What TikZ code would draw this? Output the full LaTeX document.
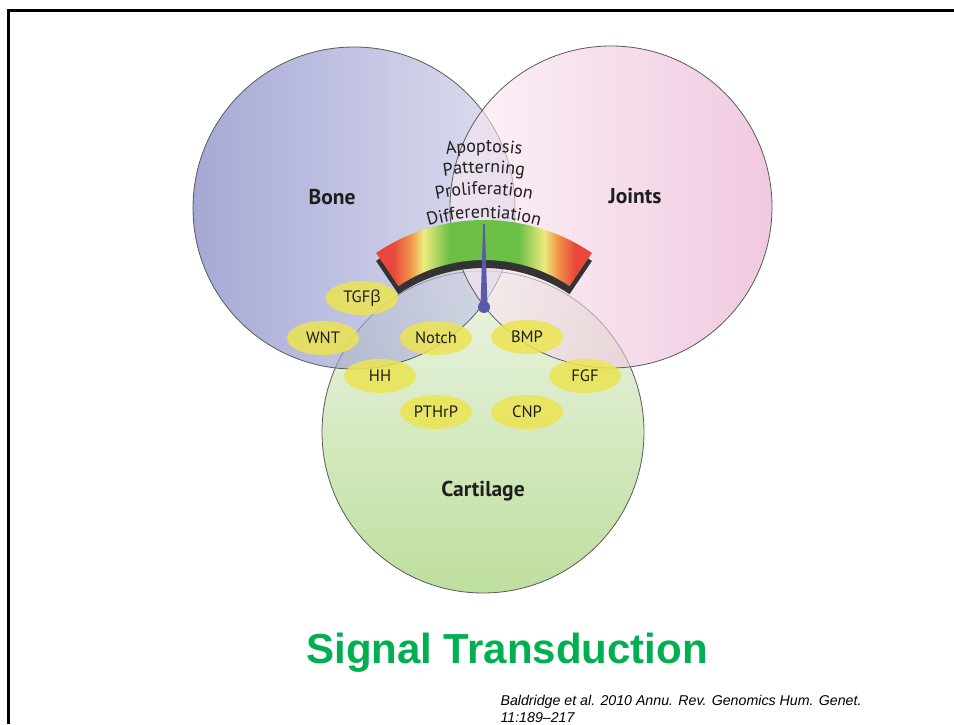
\documentclass[tikz,border=0pt]{standalone}
\usepackage{fontspec}
\setmainfont{PT Sans}
\newfontfamily\greekfont{Open Sans}
\newfontfamily\slidefont{Liberation Sans}
\usetikzlibrary{shapes.geometric,decorations.text}

\definecolor{bonedark}{RGB}{118,122,190}
\definecolor{bonelight}{RGB}{205,205,232}
\definecolor{jointdark}{RGB}{229,165,204}
\definecolor{jointlight}{RGB}{251,236,244}
\definecolor{carttop}{RGB}{236,245,228}
\definecolor{cartbottom}{RGB}{190,222,158}
\definecolor{sigyellow}{RGB}{236,228,82}
\definecolor{gred}{RGB}{232,72,60}
\definecolor{gorange}{RGB}{240,150,72}
\definecolor{gyellow}{RGB}{238,234,128}
\definecolor{ggreen}{RGB}{108,192,70}
\definecolor{needleblue}{RGB}{88,90,170}
\definecolor{labelgray}{RGB}{30,30,30}
\definecolor{titlegreen}{RGB}{0,176,80}

\pgfdeclarehorizontalshading{gaugeshade}{100bp}{color(0bp)=(gred); color(25bp)=(gred);
  color(29bp)=(gred); color(33bp)=(gorange); color(36bp)=(gyellow); color(42bp)=(ggreen);
  color(58bp)=(ggreen); color(64bp)=(gyellow); color(67bp)=(gorange); color(71bp)=(gred);
  color(75bp)=(gred); color(100bp)=(gred)}

\newcommand{\arcfont}{\fontsize{18}{18}\selectfont}

\tikzset{
  region/.style={draw=black!65, line width=0.8},
  regionlabel/.style={anchor=base, text=labelgray, font=\bfseries\fontsize{21.5}{21.5}\selectfont},
  signal/.style={ellipse, fill=sigyellow, fill opacity=0.85, text opacity=1, text=labelgray,
    minimum width=72, minimum height=34, inner sep=0pt, font=\fontsize{16.5}{16.5}\selectfont},
  arctext/.style={decorate, decoration={text along path, text align=center,
    text color=labelgray, text={|\arcfont|#1}}}
}

\begin{document}
\begin{tikzpicture}[x=1pt, y=1pt]
  \useasboundingbox (0,0) rectangle (954,724);

  % Rahmen der Folie
  \draw[line width=3] (8,0) -- (8,713) -- (954,713);

  % Knorpel (unten)
  \shade[region, top color=carttop, bottom color=cartbottom] (483,292) circle[radius=161];

  % Knochen (links)
  \shade[region, left color=bonedark, right color=bonelight, fill opacity=0.65] (354,516) circle[radius=161];

  % Gelenke (rechts)
  \shade[region, left color=jointlight, right color=jointdark, fill opacity=0.6] (611,517) circle[radius=161];

  % Skala: Schatten und Farbband
  \begin{scope}[shift={(0,-8)}]
    \fill[black!80] (484,311) ++(56:193) arc[start angle=56, end angle=124, radius=193]
      -- ++(124:-40) arc[start angle=124, end angle=56, radius=153] -- cycle;
  \end{scope}
  \shade[shading=gaugeshade] (484,311) ++(56:193) arc[start angle=56, end angle=124, radius=193]
    -- ++(124:-40) arc[start angle=124, end angle=56, radius=153] -- cycle;

  % Zeiger
  \fill[needleblue] (480.5,418) -- (483.2,500) -- (484.8,500) -- (487.5,418) -- cycle;
  \fill[needleblue] (484,417) circle[radius=6];

  % Prozesse, gebogen
  \path[arctext=Differentiation, shift={(484,311)}] (150:195) arc[start angle=150, end angle=30, radius=195];
  \path[arctext=Proliferation, shift={(484,311)}] (150:218.5) arc[start angle=150, end angle=30, radius=218.5];
  \path[arctext=Patterning, shift={(484,311)}] (150:240) arc[start angle=150, end angle=30, radius=240];
  \path[arctext=Apoptosis, shift={(484,311)}] (150:261) arc[start angle=150, end angle=30, radius=261];

  % Bereiche
  \node[regionlabel] (bone) at (332,519) {Bone};
  \node[regionlabel] (joints) at (635,520) {Joints};
  \node[regionlabel] (cartilage) at (483,227) {Cartilage};

  % Signalwege
  \node[signal] (tgfb) at (362,426) {TGF{\greekfont β}};
  \node[signal] (wnt) at (323,386) {WNT};
  \node[signal] (notch) at (436,386) {Notch};
  \node[signal] (bmp) at (527,387) {BMP};
  \node[signal] (hh) at (380,348) {HH};
  \node[signal] (fgf) at (585,348) {FGF};
  \node[signal] (pthrp) at (436,312) {PTHrP};
  \node[signal] (cnp) at (527,312) {CNP};

  % Titel und Quelle
  \node[anchor=base, text=titlegreen, font=\slidefont\bfseries\fontsize{42}{42}\selectfont]
    (title) at (507,61) {Signal Transduction};
  \node[anchor=base west, font=\slidefont\itshape\fontsize{14.2}{14.2}\selectfont]
    (cite1) at (497,19) {Baldridge et al. 2010 Annu. Rev. Genomics Hum. Genet.};
  \node[anchor=base west, font=\slidefont\itshape\fontsize{14.2}{14.2}\selectfont]
    (cite2) at (497,2) {11:189–217};
\end{tikzpicture}
\end{document}
